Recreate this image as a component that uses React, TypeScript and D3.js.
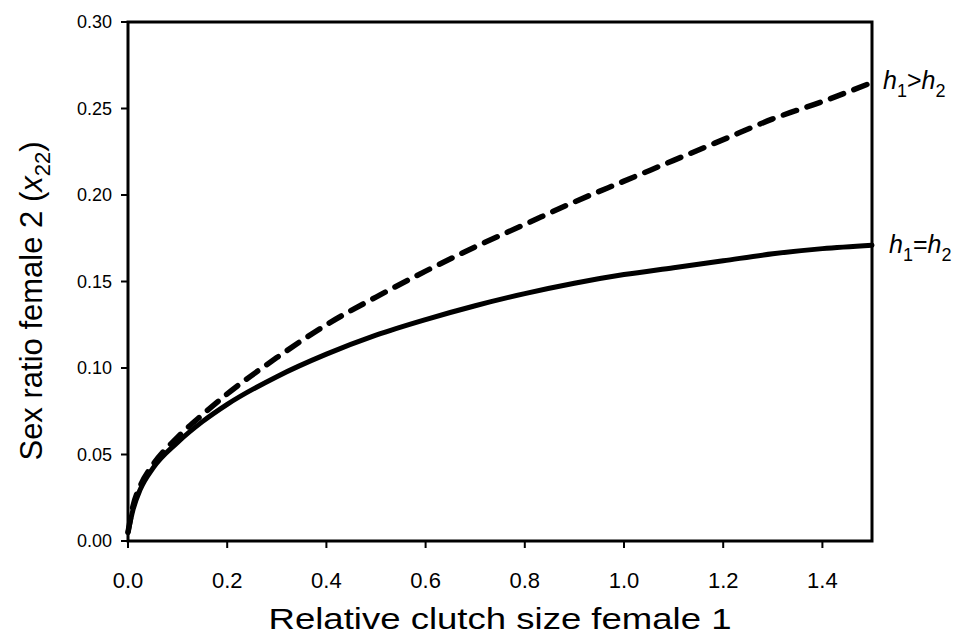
import React from "react";
import * as d3 from "d3";

const clutch = [0, 0.01, 0.025, 0.05, 0.1, 0.15, 0.2, 0.3, 0.4, 0.5, 0.6, 0.7, 0.8, 0.9, 1.0, 1.1, 1.2, 1.3, 1.4, 1.5];
const equalH = [0.005, 0.018, 0.03, 0.042, 0.057, 0.069, 0.079, 0.095, 0.108, 0.119, 0.128, 0.136, 0.143, 0.149, 0.154, 0.158, 0.162, 0.166, 0.169, 0.171];
const greaterH = [0.005, 0.02, 0.032, 0.044, 0.06, 0.073, 0.085, 0.106, 0.125, 0.141, 0.156, 0.17, 0.183, 0.196, 0.208, 0.22, 0.232, 0.244, 0.254, 0.265];
const xTicks = [0, 0.2, 0.4, 0.6, 0.8, 1.0, 1.2, 1.4];
const yTicks = [0, 0.05, 0.1, 0.15, 0.2, 0.25, 0.3];

const width = 960;
const height = 638;
const margin = { top: 22, right: 88, bottom: 97, left: 128 };

export default function App() {
  const x = d3.scaleLinear([0, 1.5], [margin.left, width - margin.right]);
  const y = d3.scaleLinear([0, 0.3], [height - margin.bottom, margin.top]);
  const line = d3
    .line<number>()
    .x((_, i) => x(clutch[i]))
    .y((d) => y(d))
    .curve(d3.curveMonotoneX);

  const font = "Liberation Sans, Arial, sans-serif";
  const x0 = x(0);
  const x1 = x(1.5);
  const y0 = y(0);
  const y1 = y(0.3);

  return (
    <svg
      width={width}
      height={height}
      style={{ position: "absolute", left: 0, top: 0 }}
      fontFamily={font}
    >
      <rect width={width} height={height} fill="#fff" />
      {/* frame */}
      <path
        d={`M${x0},${y1}H${x1}V${y0}H${x0}Z`}
        fill="none"
        stroke="#000"
        strokeWidth={3}
      />
      {/* y ticks */}
      {yTicks.map((t) => (
        <g key={t}>
          <line x1={x0 - 7} x2={x0} y1={y(t)} y2={y(t)} stroke="#000" strokeWidth={2} />
          <text x={x0 - 16} y={y(t)} dy="0.35em" textAnchor="end" fontSize={18}>
            {d3.format(".2f")(t)}
          </text>
        </g>
      ))}
      {/* x ticks */}
      {xTicks.map((t) => (
        <g key={t}>
          <line x1={x(t)} x2={x(t)} y1={y0} y2={y0 + 7} stroke="#000" strokeWidth={2} />
          <text x={x(t)} y={y0 + 47} textAnchor="middle" fontSize={22}>
            {d3.format(".1f")(t)}
          </text>
        </g>
      ))}
      {/* curves */}
      <path d={line(equalH) ?? ""} fill="none" stroke="#000" strokeWidth={5} strokeLinecap="round" />
      <path
        d={line(greaterH) ?? ""}
        fill="none"
        stroke="#000"
        strokeWidth={5.5}
        strokeLinecap="round"
        strokeDasharray="14 11"
      />
      {/* curve labels */}
      <text x={x1 + 11} y={y(greaterH[greaterH.length - 1]) + 6} fontSize={25}>
        <tspan fontStyle="italic">h</tspan>
        <tspan fontSize={18} dy={8}>1</tspan>
        <tspan dy={-8}>&gt;</tspan>
        <tspan fontStyle="italic">h</tspan>
        <tspan fontSize={18} dy={8}>2</tspan>
      </text>
      <text x={x1 + 17} y={y(equalH[equalH.length - 1]) + 8} fontSize={25}>
        <tspan fontStyle="italic">h</tspan>
        <tspan fontSize={18} dy={8}>1</tspan>
        <tspan dy={-8}>=</tspan>
        <tspan fontStyle="italic">h</tspan>
        <tspan fontSize={18} dy={8}>2</tspan>
      </text>
      {/* axis titles */}
      <text
        x={(x0 + x1) / 2}
        y={629}
        textAnchor="middle"
        fontSize={29}
        textLength={463}
        lengthAdjust="spacingAndGlyphs"
      >
        Relative clutch size female 1
      </text>
      <text
        transform={`translate(42,301) rotate(-90)`}
        textAnchor="middle"
        fontSize={31}
      >
        Sex ratio female 2 (<tspan fontStyle="italic">x</tspan>
        <tspan fontSize={22} dy={8}>22</tspan>
        <tspan dy={-8}>)</tspan>
      </text>
    </svg>
  );
}
